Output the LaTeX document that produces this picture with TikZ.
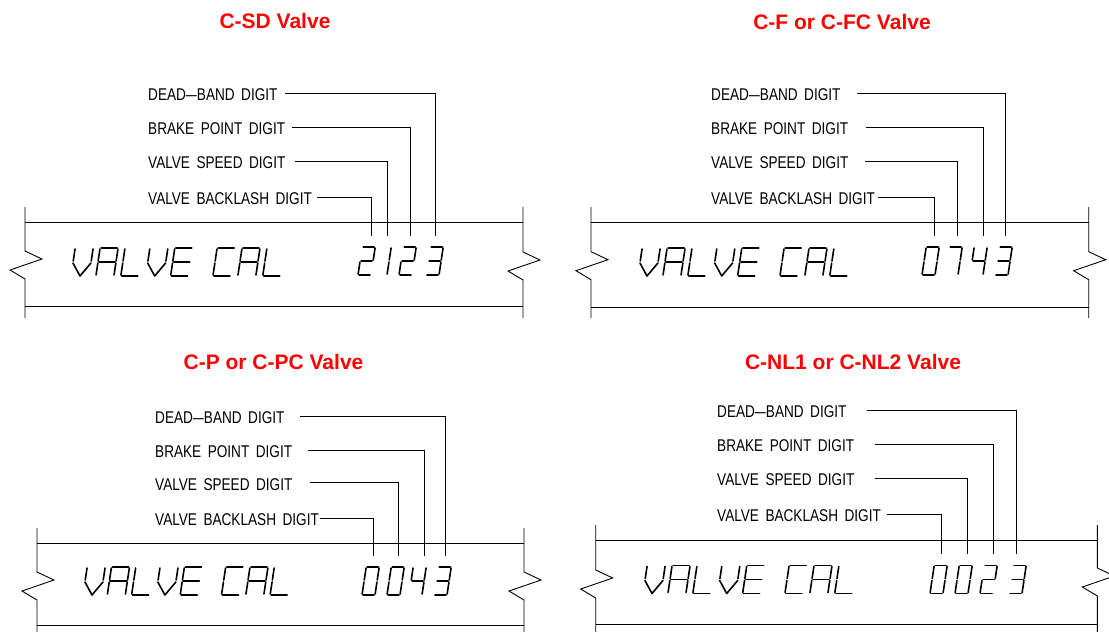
\documentclass[tikz,border=0pt]{standalone}
\usepackage{graphicx}
\usepackage{fontspec}
\setmainfont{Liberation Sans}
\newfontfamily\lblfont[FakeStretch=0.8]{Liberation Sans}
\newfontfamily\ttlfont{Liberation Sans}
\newcommand\gap{\hspace{6.5pt}}
\newcommand\ldash{\scalebox{1.45}[1]{–}}
% seven-segment pieces (local coords: x right, y up, height 28)
\newcommand\SSega{\draw[segl] (1,28) -- ({\gw-1},28);}
\newcommand\SSegb{\draw[segl] (\gw,27) -- (\gw,15);}
\newcommand\SSegc{\draw[segl] (\gw,13) -- (\gw,1);}
\newcommand\SSegd{\draw[segl] (1,0) -- ({\gw-1},0);}
\newcommand\SSege{\draw[segl] (0,1) -- (0,13);}
\newcommand\SSegf{\draw[segl] (0,15) -- (0,27);}
\newcommand\SSegg{\draw[segl] (1,14) -- ({\gw-1},14);}
\newcommand\SSegv{\draw[segl] (0,13) -- ({\gw/2},0) -- (\gw,13);}
\newcommand\glyph[4]{%
  \begin{scope}[shift={({#1},{#2})}, x=1pt, y=1pt, xslant=0.15]
    \def\gw{#3}
    \foreach \s in {#4} {\csname SSeg\s\endcsname}
  \end{scope}}
\newcommand\valvecal[3]{%
  \glyph{#1}{#2}{18}{f,b,v}
  \glyph{#1+#3}{#2}{18}{a,b,c,e,f,g}
  \glyph{#1+2*#3}{#2}{18}{f,e,d}
  \glyph{#1+3*#3}{#2}{18}{f,b,v}
  \glyph{#1+4*#3}{#2}{18}{a,f,g,e,d}
  \glyph{#1+5.7*#3}{#2}{18}{a,f,e,d}
  \glyph{#1+6.7*#3}{#2}{18}{a,b,c,e,f,g}
  \glyph{#1+7.7*#3}{#2}{18}{f,e,d}}
% display frame with break symbols
\newcommand\frm[8]{%
  \draw[frame] (#1,#3) -- (#1,#7) -- ++(17,8) -- ++(-32,11) -- ++(15,9) -- (#1,#4);
  \draw[frame] (#2,#3) -- (#2,#8) -- ++(17,8) -- ++(-32,11) -- ++(15,9) -- (#2,#4);
  \draw[frame] (#1,#5) -- (#2,#5);
  \draw[frame] (#1,#6) -- (#2,#6);}
% label with leader
\newcommand\lead[7]{%
  \node[lbl] (#1) at (#3,#4+1.5) {#2};
  \coordinate (#1s) at (#5,#4);
  \coordinate (#1e) at (#6,#7);
  \draw[leader] (#1s) -| (#1e);}
\tikzset{
  lbl/.style={anchor=west, inner sep=0pt, font={\lblfont\fontsize{17}{19}\selectfont}},
  ttl/.style={anchor=base, inner sep=0pt, text={rgb,255:red,255;green,0;blue,0}, font={\ttlfont\bfseries\fontsize{21}{25}\selectfont}},
  leader/.style={line width=0.9pt},
  frame/.style={line width=0.9pt},
  segl/.style={line width=1.6pt, line cap=round, line join=round},
}
\begin{document}
\begin{tikzpicture}[x=1pt, y=-1pt]
\useasboundingbox (0,0) rectangle (1109,632);
% titles
\node[ttl] (t1) at (275,28) {C-SD Valve};
\node[ttl] (t2) at (842,29) {C-F or C-FC Valve};
\node[ttl] (t3) at (273.5,369) {C-P or C-PC Valve};
\node[ttl] (t4) at (853,369) {C-NL1 or C-NL2 Valve};
% frames
\frm{25}{523}{207}{318}{222.5}{306.7}{251}{252}
\frm{591}{1088.7}{207}{318}{222.5}{307}{251.7}{251.7}
\frm{37}{524}{528}{632}{543.3}{625.5}{572}{572}
\frm{595.7}{1097.3}{525}{632}{540}{624.3}{570}{568}
% labels and leaders
\lead{a1}{DEAD\ldash BAND\gap DIGIT}{148}{93.5}{285}{435}{236}
\lead{a2}{BRAKE\gap POINT\gap DIGIT}{148}{127.3}{292}{410.3}{236}
\lead{a3}{VALVE\gap SPEED\gap DIGIT}{148}{161}{295}{387.7}{236}
\lead{a4}{VALVE\gap BACKLASH\gap DIGIT}{148}{197.3}{317}{371}{236}
\lead{b1}{DEAD\ldash BAND\gap DIGIT}{711}{93.5}{857}{1005.7}{235.7}
\lead{b2}{BRAKE\gap POINT\gap DIGIT}{711}{127.3}{866}{983.7}{235.7}
\lead{b3}{VALVE\gap SPEED\gap DIGIT}{711}{161}{865}{957.7}{235.7}
\lead{b4}{VALVE\gap BACKLASH\gap DIGIT}{711}{197.3}{878}{934.3}{235.7}
\lead{c1}{DEAD\ldash BAND\gap DIGIT}{155}{416}{300}{445.3}{556}
\lead{c2}{BRAKE\gap POINT\gap DIGIT}{155}{450}{308}{424}{556}
\lead{c3}{VALVE\gap SPEED\gap DIGIT}{155}{482.7}{310}{398.7}{556}
\lead{c4}{VALVE\gap BACKLASH\gap DIGIT}{155}{518.3}{320}{373.3}{556}
\lead{d1}{DEAD\ldash BAND\gap DIGIT}{717}{410}{866.7}{1016}{554}
\lead{d2}{BRAKE\gap POINT\gap DIGIT}{717}{444}{875}{993.3}{554}
\lead{d3}{VALVE\gap SPEED\gap DIGIT}{717}{478.3}{875}{967.7}{554}
\lead{d4}{VALVE\gap BACKLASH\gap DIGIT}{717}{514.3}{887}{941.7}{554}
% display texts
\valvecal{71}{276}{24.9}
\valvecal{638}{276}{24.9}
\valvecal{83}{595}{24.3}
\valvecal{643}{593.5}{24.9}
% digits: 2123
\glyph{358}{275}{13}{a,b,g,e,d}
\glyph{374}{275}{13}{b,c}
\glyph{399}{275}{13}{a,b,g,e,d}
\glyph{426}{275}{13}{a,b,g,c,d}
% 0743
\glyph{922}{275}{13}{a,b,c,d,e,f}
\glyph{945}{275}{13}{a,b,c}
\glyph{970}{275}{13}{f,g,b,c}
\glyph{995}{275}{13}{a,b,g,c,d}
% 0043
\glyph{362}{595}{13}{a,b,c,d,e,f}
\glyph{387}{595}{13}{a,b,c,d,e,f}
\glyph{409}{595}{13}{f,g,b,c}
\glyph{434}{595}{13}{a,b,g,c,d}
% 0023
\glyph{930}{593.5}{13}{a,b,c,d,e,f}
\glyph{955}{593.5}{13}{a,b,c,d,e,f}
\glyph{980}{593.5}{13}{a,b,g,e,d}
\glyph{1009}{593.5}{13}{a,b,g,c,d}
\end{tikzpicture}
\end{document}
